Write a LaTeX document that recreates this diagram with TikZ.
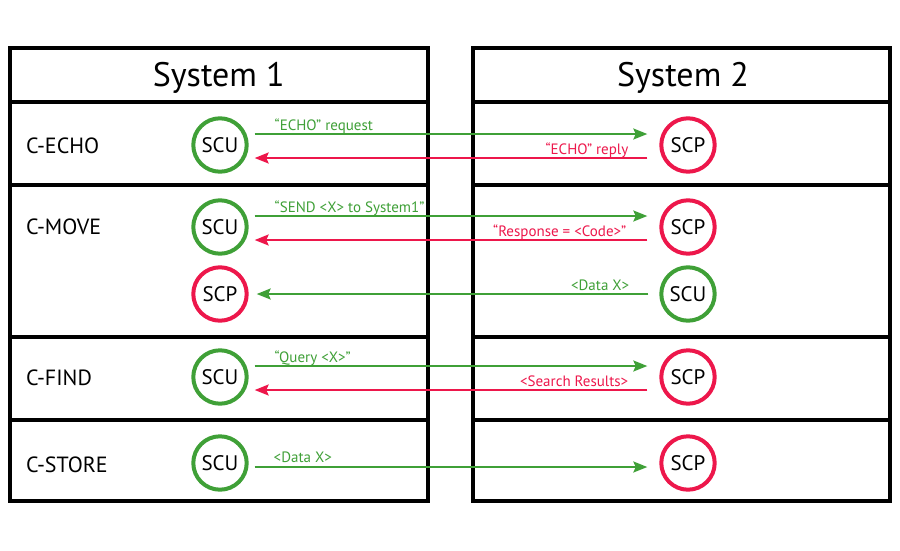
\documentclass[tikz,border=0pt]{standalone}
\usepackage{fontspec}
\setmainfont{PT Sans}
\usetikzlibrary{arrows.meta}
\definecolor{scgreen}{RGB}{63,160,55}
\definecolor{scred}{RGB}{237,23,75}
\begin{document}
\begin{tikzpicture}[x=1pt,y=-1pt,
  frame/.style={line width=4pt, line cap=rect},
  circ/.style={circle, line width=4pt, minimum size=53.4pt, inner sep=0pt, font=\fontsize{21}{21}\selectfont},
  scu/.style={circ, draw=scgreen},
  scp/.style={circ, draw=scred},
  msg/.style={line width=2pt, -{Stealth[length=14pt,width=11pt,inset=2.5pt]}},
  gmsg/.style={msg, color=scgreen},
  rmsg/.style={msg, color=scred},
  lbl/.style={font=\fontsize{15}{15}\selectfont, inner sep=0pt},
  rowlbl/.style={font=\fontsize{22}{22}\selectfont, anchor=base west, inner sep=0pt},
  head/.style={font=\fontsize{34}{34}\selectfont, anchor=base, inner sep=0pt}]
\useasboundingbox (0,0) rectangle (900,550);
\fill[white] (0,0) rectangle (900,550);
% frames
\draw[frame] (10,48) rectangle (427.5,500.5);
\draw[frame] (472.5,48) rectangle (889.5,500.5);
\foreach \y in {102,185,336.5,420} {
  \draw[frame] (10,\y) -- (427.5,\y);
  \draw[frame] (472.5,\y) -- (889.5,\y);
}
% headers
\node[head] (h1) at (218.75,86) {System 1};
\node[head] (h2) at (683,86) {System 2};
% row labels
\node[rowlbl] (lecho)  at (26,153) {C-ECHO};
\node[rowlbl] (lmove)  at (26,234) {C-MOVE};
\node[rowlbl] (lfind)  at (26,385) {C-FIND};
\node[rowlbl] (lstore) at (26,472) {C-STORE};
% circles
\node[scu] (scuA) at (220,145) {SCU};
\node[scp] (scpA) at (688,145) {SCP};
\node[scu] (scuB) at (220,227) {SCU};
\node[scp] (scpB) at (688,227) {SCP};
\node[scp] (scpC) at (220,294) {SCP};
\node[scu] (scuC) at (688,294) {SCU};
\node[scu] (scuD) at (220,377) {SCU};
\node[scp] (scpD) at (688,377) {SCP};
\node[scu] (scuE) at (220,463) {SCU};
\node[scp] (scpE) at (688,463) {SCP};
% C-ECHO
\draw[gmsg] ([xshift=6pt,yshift=11pt]scuA.east) -- node[lbl, pos=0, anchor=base west, xshift=19pt, yshift=4pt, text=scgreen] {“ECHO” request} ([xshift=-12pt,yshift=11pt]scpA.west);
\draw[rmsg] ([xshift=-12pt,yshift=-13pt]scpA.west) -- node[lbl, pos=0, anchor=base east, xshift=-18pt, yshift=4pt, text=scred] {“ECHO” reply} ([xshift=6pt,yshift=-13pt]scuA.east);
% C-MOVE
\draw[gmsg] ([xshift=6pt,yshift=11pt]scuB.east) -- node[lbl, pos=0, anchor=base west, xshift=19pt, yshift=4pt, text=scgreen] {“SEND <X> to System1”} ([xshift=-12pt,yshift=11pt]scpB.west);
\draw[rmsg] ([xshift=-12pt,yshift=-13pt]scpB.west) -- node[lbl, pos=0, anchor=base east, xshift=-20pt, yshift=4pt, text=scred] {“Response = <Code>”} ([xshift=6pt,yshift=-13pt]scuB.east);
\draw[gmsg] ([xshift=-11pt]scuC.west) -- node[lbl, pos=0, anchor=base east, xshift=-18pt, yshift=4pt, text=scgreen] {<Data X>} ([xshift=8pt]scpC.east);
% C-FIND
\draw[gmsg] ([xshift=6pt,yshift=11pt]scuD.east) -- node[lbl, pos=0, anchor=base west, xshift=19pt, yshift=4pt, text=scgreen] {“Query <X>”} ([xshift=-12pt,yshift=11pt]scpD.west);
\draw[rmsg] ([xshift=-12pt,yshift=-13pt]scpD.west) -- node[lbl, pos=0, anchor=base east, xshift=-18pt, yshift=4pt, text=scred] {<Search Results>} ([xshift=6pt,yshift=-13pt]scuD.east);
% C-STORE
\draw[gmsg] ([xshift=6pt,yshift=-4pt]scuE.east) -- node[lbl, pos=0, anchor=base west, xshift=18pt, yshift=5pt, text=scgreen] {<Data X>} ([xshift=-12pt,yshift=-4pt]scpE.west);
\end{tikzpicture}
\end{document}
